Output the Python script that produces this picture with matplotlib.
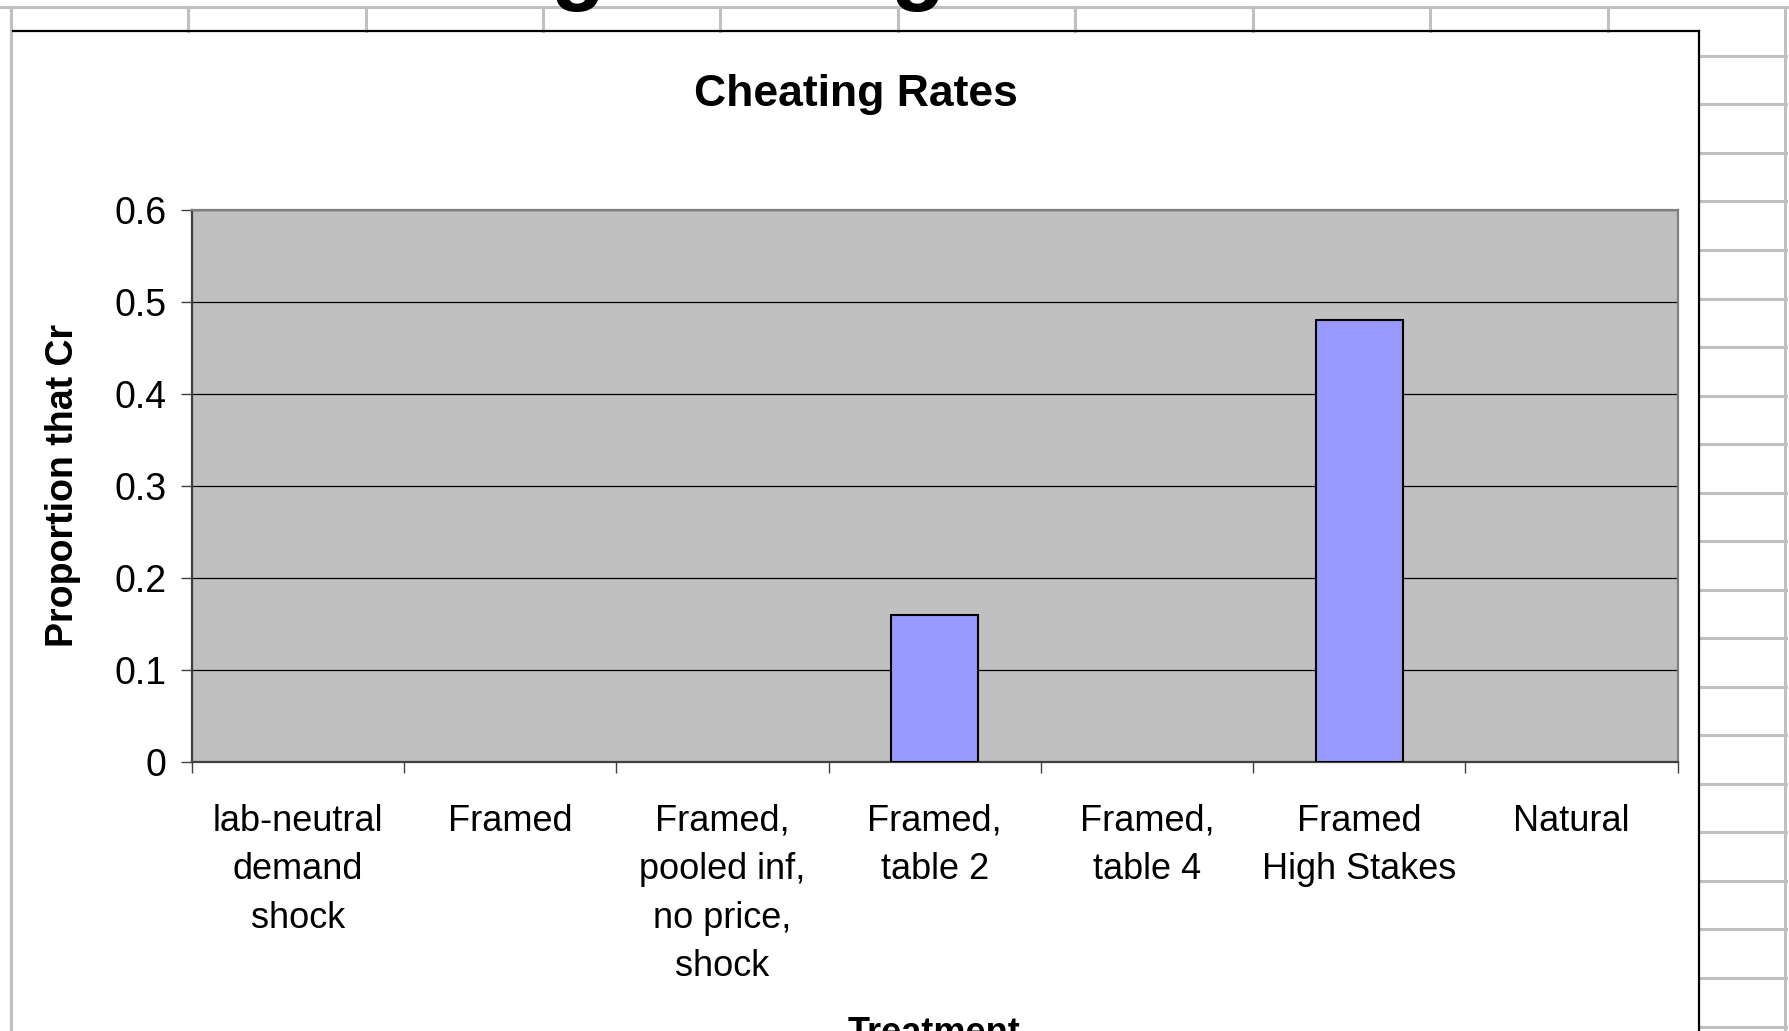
import numpy as np
import matplotlib
matplotlib.use("Agg")
from matplotlib import pyplot as plt
from matplotlib.lines import Line2D
from matplotlib.patches import Rectangle

# data
treatments = [
    "lab-neutral\ndemand\nshock",
    "Framed",
    "Framed,\npooled inf,\nno price,\nshock",
    "Framed,\ntable 2",
    "Framed,\ntable 4",
    "Framed\nHigh Stakes",
    "Natural",
]
cheat_rates = [0, 0, 0, 0.16, 0, 0.48, 0]
y_ticks = [0, 0.1, 0.2, 0.3, 0.4, 0.5, 0.6]
y_tick_labels = ["0", "0.1", "0.2", "0.3", "0.4", "0.5", "0.6"]

W, H = 1789, 1031
plt.rcParams['font.family'] = ['Liberation Sans', 'DejaVu Sans']

fig = plt.figure(figsize=(W / 100, H / 100), dpi=100)
fig.patch.set_facecolor('white')


def fx(x):
    return x / W


def fy(y):
    return 1 - y / H


sheet_grey = '#C0C0C0'

# spreadsheet grid behind the chart
fig.add_artist(Line2D([fx(0), fx(W)], [fy(6.7), fy(6.7)], color=sheet_grey, lw=2.2,
                      transform=fig.transFigure))
for cx in [11, 188, 366, 543, 720, 898, 1075, 1253, 1430, 1608, 1785]:
    y_end = H if cx in (11, 1785) else 31
    fig.add_artist(Line2D([fx(cx), fx(cx)], [fy(6.7), fy(y_end)], color=sheet_grey,
                          lw=2.2, transform=fig.transFigure))
for ry in np.arange(55.9, H, 48.53):
    fig.add_artist(Line2D([fx(1699), fx(1786)], [fy(ry), fy(ry)], color=sheet_grey,
                          lw=2.2, transform=fig.transFigure))

# chart area
fig.add_artist(Rectangle((fx(12.5), 0), fx(1699) - fx(12.5), fy(30.7), facecolor='white',
                         edgecolor='none', transform=fig.transFigure, zorder=1))
fig.add_artist(Line2D([fx(12.5), fx(1699)], [fy(30.7), fy(30.7)], color='black', lw=1.6,
                      transform=fig.transFigure, zorder=2))
fig.add_artist(Line2D([fx(1699), fx(1699)], [fy(30.7), 0], color='black', lw=1.6,
                      transform=fig.transFigure, zorder=2))

# slide title, cut off above the picture
for gx in [577, 917]:
    fig.text(fx(gx), fy(-7), "g", ha='center', va='baseline', fontsize=64,
             fontweight='bold', zorder=5)

ax = fig.add_axes([fx(191.7), fy(762.3), fx(1677.7) - fx(191.7), fy(209.5) - fy(762.3)])
ax.set_zorder(3)
ax.set_facecolor('#C0C0C0')

x = np.arange(len(treatments))
edges = ['black' if v > 0 else 'none' for v in cheat_rates]
ax.bar(x, cheat_rates, width=0.41, color='#9999FF', edgecolor=edges, linewidth=1.5,
       zorder=3)

ax.set_xlim(-0.5, len(treatments) - 0.5)
ax.set_ylim(0, 0.6)
ax.set_yticks(y_ticks)
ax.set_yticklabels(y_tick_labels, fontsize=27)
ax.yaxis.grid(True, color='black', linewidth=0.9)
ax.set_axisbelow(True)

ax.set_xticks(np.arange(len(treatments) + 1) - 0.5)
ax.set_xticklabels([])
ax.set_xticks(x, minor=True)
ax.set_xticklabels(treatments, minor=True, fontsize=26, linespacing=1.5)
ax.tick_params(axis='x', which='minor', length=0, pad=30)
ax.tick_params(axis='both', which='major', direction='out', length=8, width=1,
               color='#404040')
ax.tick_params(axis='y', pad=10)

for side in ['top', 'right']:
    ax.spines[side].set_color('#808080')
    ax.spines[side].set_linewidth(1.6)
for side in ['left', 'bottom']:
    ax.spines[side].set_color('#404040')
    ax.spines[side].set_linewidth(1.6)

fig.text(fx(855.5), fy(106), "Cheating Rates", ha='center', va='baseline', fontsize=32,
         fontweight='bold')
fig.text(fx(63), fy(485), "Proportion that Cr", rotation=90, ha='center', va='center',
         fontsize=27, fontweight='bold')
fig.text(fx(934), fy(1016), "Treatment", ha='center', va='top', fontsize=26,
         fontweight='bold')

fig.savefig('out.png', dpi=100)
